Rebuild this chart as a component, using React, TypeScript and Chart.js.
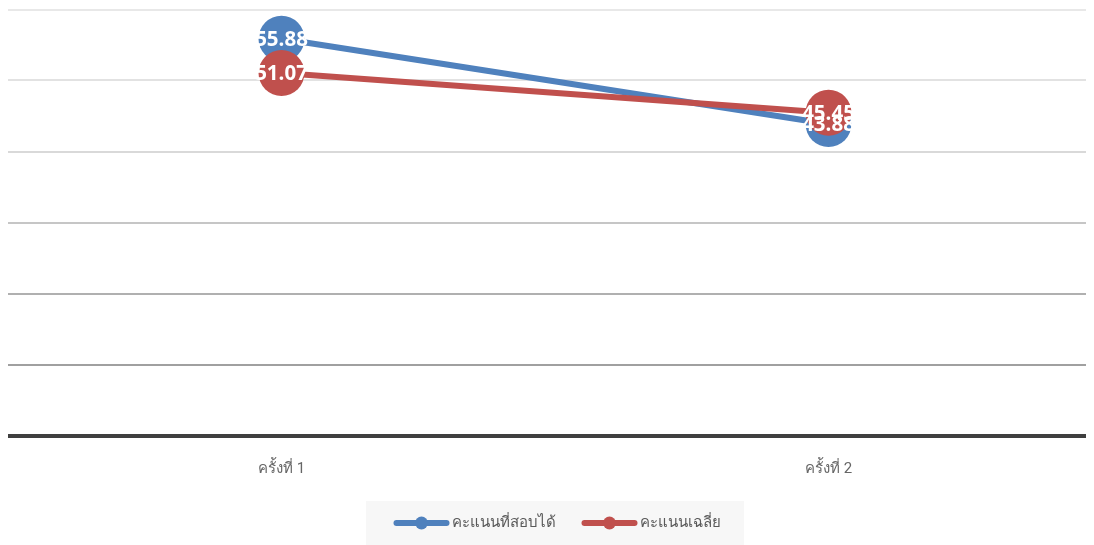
import React, { useEffect, useRef } from "react";
import { Chart, registerables } from "chart.js";
Chart.register(...registerables);

const categories = ["ครั้งที่ 1", "ครั้งที่ 2"];
const scoreValues = [55.88, 43.88];
const averageValues = [51.07, 45.45];
const seriesNames = ["คะแนนที่สอบได้", "คะแนนเฉลี่ย"];
const seriesColors = ["#4f81bd", "#c0504d"];
const yMin = 0;
const yMax = 60;
const yStep = 10;
const gridColors = ["#3f3f3f", "#a0a0a0", "#b0b0b0", "#c6c6c6", "#d9d9d9", "#e2e2e2", "#e8e8e8"];

const labelPlugin = {
  id: "valueLabels",
  afterDatasetsDraw(chart: any) {
    const ctx = chart.ctx;
    ctx.save();
    ctx.font = "bold 20.5px 'Open Sans', sans-serif";
    ctx.fillStyle = "#ffffff";
    ctx.textAlign = "center";
    ctx.textBaseline = "middle";
    chart.data.datasets.forEach((ds: any, i: number) => {
      const meta = chart.getDatasetMeta(i);
      meta.data.forEach((pt: any, j: number) => {
        ctx.fillText(Number(ds.data[j]).toFixed(2), pt.x, pt.y + 1);
      });
    });
    ctx.restore();
  },
};

const legendPlugin = {
  id: "customLegend",
  afterDraw(chart: any) {
    const ctx = chart.ctx;
    const W = chart.width;
    const H = chart.height;
    ctx.save();
    ctx.font = "15px Roboto, sans-serif";
    const lineLen = 56;
    const gap = 2;
    const itemGap = 26;
    const boxW = 378;
    const boxH = 44;
    const widths = chart.data.datasets.map((ds: any) => lineLen + gap + ctx.measureText(ds.label).width);
    const total = widths.reduce((a: number, b: number) => a + b, 0) + itemGap * (widths.length - 1);
    const bx = W / 2 - boxW / 2;
    const by = H - boxH;
    ctx.fillStyle = "#f7f7f7";
    ctx.fillRect(bx, by, boxW, boxH);
    const cy = by + boxH / 2;
    let x = W / 2 - total / 2 + 2;
    chart.data.datasets.forEach((ds: any, i: number) => {
      ctx.strokeStyle = ds.borderColor;
      ctx.lineWidth = 6;
      ctx.lineCap = "round";
      ctx.beginPath();
      ctx.moveTo(x + 3, cy);
      ctx.lineTo(x + lineLen - 3, cy);
      ctx.stroke();
      ctx.fillStyle = ds.borderColor;
      ctx.beginPath();
      ctx.arc(x + lineLen / 2, cy, 6.5, 0, Math.PI * 2);
      ctx.fill();
      ctx.fillStyle = "#595959";
      ctx.textAlign = "left";
      ctx.textBaseline = "middle";
      ctx.fillText(ds.label, x + lineLen + gap, cy);
      x += widths[i] + itemGap;
    });
    ctx.restore();
  },
};

export default function App() {
  const ref = useRef<HTMLCanvasElement | null>(null);
  useEffect(() => {
    if (!ref.current) return;
    document.body.style.overflow = "hidden";
    const chart = new Chart(ref.current, {
      type: "line",
      data: {
        labels: categories,
        datasets: [
          {
            label: seriesNames[0],
            data: scoreValues,
            borderColor: seriesColors[0],
            backgroundColor: seriesColors[0],
            borderWidth: 6,
            pointRadius: 23,
            pointHoverRadius: 23,
            pointBorderWidth: 0,
            order: 2,
            clip: false as any,
          },
          {
            label: seriesNames[1],
            data: averageValues,
            borderColor: seriesColors[1],
            backgroundColor: seriesColors[1],
            borderWidth: 6,
            pointRadius: 23,
            pointHoverRadius: 23,
            pointBorderWidth: 0,
            order: 1,
            clip: false as any,
          },
        ],
      },
      options: {
        animation: false,
        responsive: false,
        maintainAspectRatio: false,
        layout: { autoPadding: false, padding: { top: 1.5, left: 0, right: 0, bottom: 0 } },
        plugins: { legend: { display: false }, tooltip: { enabled: false } },
        scales: {
          x: {
            offset: true,
            grid: { display: false, drawTicks: false },
            border: { display: false },
            ticks: {
              padding: 25,
              color: "#666666",
              font: { size: 15, family: "Roboto, sans-serif" },
            },
            afterFit: (s: any) => {
              s.height = 109.5;
            },
          },
          y: {
            min: yMin,
            max: yMax,
            ticks: { display: false, stepSize: yStep },
            border: { display: false },
            grid: {
              drawTicks: false,
              color: (c: any) => gridColors[c.index] || "#e0e0e0",
              lineWidth: (c: any) => (c.index === 0 ? 4 : 2),
            },
            afterFit: (s: any) => {
              s.width = 0;
            },
          },
        },
      },
      plugins: [labelPlugin, legendPlugin],
    });
    return () => chart.destroy();
  }, []);
  return (
    <div style={{ width: 1094, height: 537 }}>
      <canvas ref={ref} width={1094} height={537} style={{ width: 1094, height: 537 }} />
    </div>
  );
}
